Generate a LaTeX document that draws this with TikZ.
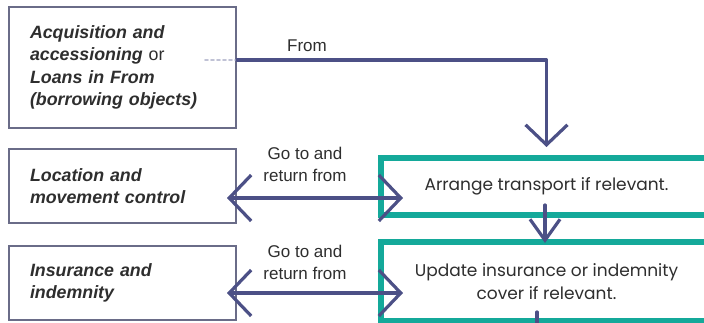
\documentclass[tikz,border=0pt]{standalone}
\usepackage{fontspec}
\setmainfont{Liberation Sans}
\newfontfamily\rightfont{Poppins}
\usetikzlibrary{arrows.meta,calc}
\definecolor{teal1}{HTML}{14A99A}
\definecolor{ink}{HTML}{4C5086}
\definecolor{boxline}{HTML}{6A6C88}
\definecolor{txt}{HTML}{2E2E2E}
\tikzset{
  leftbox/.style={draw=boxline,line width=2pt,minimum width=227pt,text width=185pt,
    inner xsep=21pt,align=left,font=\fontsize{17.8}{22.5}\selectfont\bfseries\itshape,text=txt},
  tealbox/.style={draw=teal1,line width=6pt,minimum width=331pt,align=center,
    font=\rightfont\fontsize{17}{23}\selectfont,text=txt},
  lbl/.style={align=center,font=\fontsize{17}{22}\selectfont,text=txt,inner sep=0pt},
  conn/.style={draw=ink,line width=3.2pt,line cap=round,line join=round},
}
\begin{document}
\begin{tikzpicture}[x=1pt,y=-1pt]
\useasboundingbox[fill=white] (0,0) rectangle (704,322);
\node[leftbox,minimum height=121pt] (acq) at (122.5,67.5)
  {Acquisition and\\accessioning {\mdseries\upshape or}\\Loans in From\\(borrowing objects)};
\node[leftbox,minimum height=74pt] (loc) at (122.5,186) {Location and\\movement control};
\node[leftbox,minimum height=74pt] (ins) at (122.5,283) {Insurance and\\indemnity};
\node[tealbox,minimum height=57pt] (arr) at (546.5,186.5) {Arrange transport if relevant.};
\node[tealbox,minimum height=79pt] (upd) at (546.5,281.5) {Update insurance or indemnity\\cover if relevant.};
\node[lbl] (from) at (307,46) {From};
\node[lbl] (gt1) at (305,164.5) {Go to and\\return from};
\node[lbl] (gt2) at (305,262.5) {Go to and\\return from};
% From connector
\draw[conn,draw=ink!35,dashed,line width=1.8pt] ([xshift=-32pt,yshift=7.5pt]acq.east) -- ([yshift=7.5pt]acq.east);
\draw[conn,-{Straight Barb[length=20pt,width=42pt]}] ([yshift=7.5pt]acq.east) -| ([yshift=8pt]arr.north);
% double arrows
\coordinate (a1) at ([xshift=-10pt,yshift=-12pt]loc.east);
\path ([xshift=25pt]arr.west) coordinate (u1);
\draw[conn,{Straight Barb[length=22pt,width=46pt]}-{Straight Barb[length=22pt,width=46pt]}] (a1) -- (a1 -| u1);
\coordinate (a2) at ([xshift=-10pt,yshift=-10pt]ins.east);
\path ([xshift=25pt]upd.west) coordinate (u2);
\draw[conn,{Straight Barb[length=22pt,width=46pt]}-{Straight Barb[length=22pt,width=46pt]}] (a2) -- (a2 -| u2);
% down arrow between teal boxes
\draw[conn,-{Straight Barb[length=21pt,width=30pt]}] ([xshift=-1.5pt,yshift=13pt]arr.south) -- ([xshift=-1.5pt,yshift=-4pt]upd.north);
% stub leaving bottom box
\coordinate (down) at ([xshift=-9.5pt,yshift=-10pt]upd.south);
\draw[conn] ([xshift=-9.5pt,yshift=12pt]upd.south) -- (down);
\end{tikzpicture}
\end{document}
